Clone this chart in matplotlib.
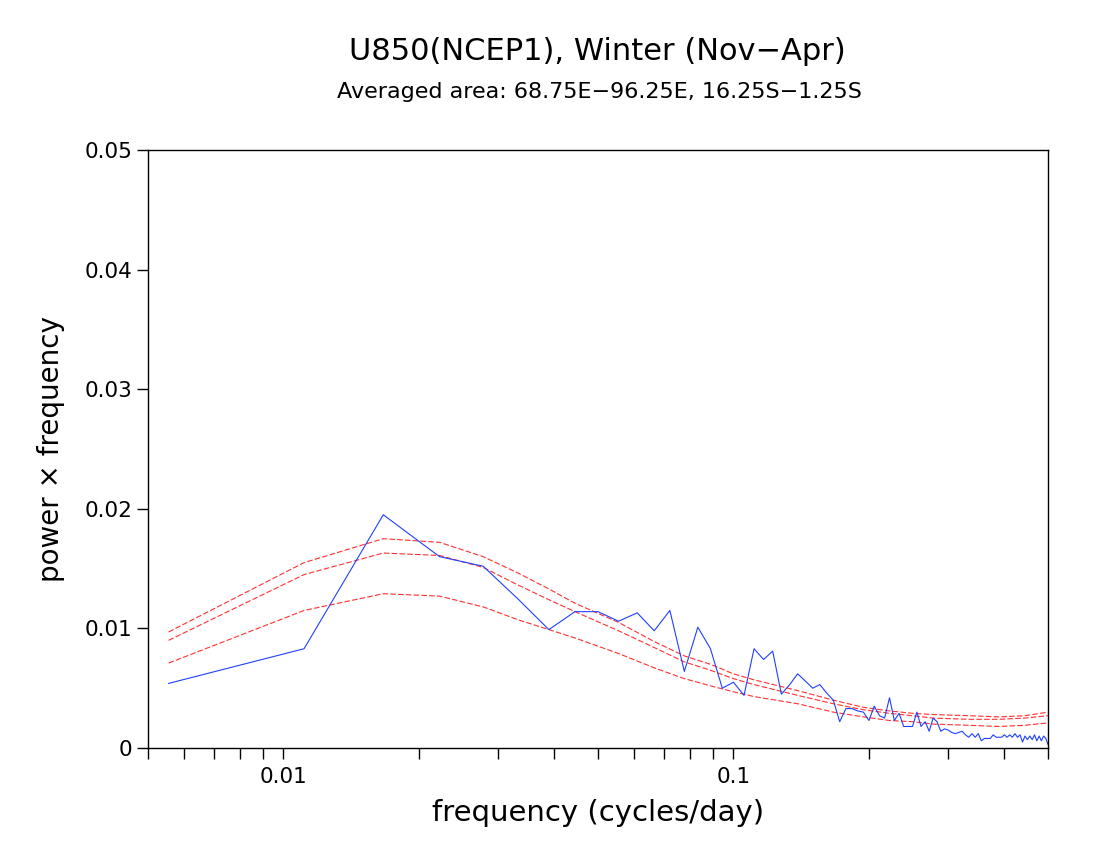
import numpy as np
import matplotlib
matplotlib.use('Agg')
import matplotlib.pyplot as plt
from matplotlib.ticker import FixedLocator, NullFormatter

# winter season length in days (frequencies are k / 180)
nDays = 180
harmonics = np.arange(1, 91)

# power x frequency of the averaged U850, one value per harmonic
spectrum = [
    0.0054, 0.0083, 0.0195, 0.0160, 0.0152, 0.0124, 0.0099, 0.0114, 0.0114, 0.0106,
    0.0113, 0.0098, 0.0115, 0.0064, 0.0101, 0.0083, 0.0050, 0.0055, 0.0044, 0.0083,
    0.0074, 0.0081, 0.0045, 0.0053, 0.0062, 0.0056, 0.0050, 0.0053, 0.0046, 0.0040,
    0.0022, 0.0033, 0.0033, 0.0031, 0.0030, 0.0023, 0.0035, 0.0027, 0.0025, 0.0042,
    0.0023, 0.0029, 0.0018, 0.0018, 0.0018, 0.0030, 0.0018, 0.0022, 0.0014, 0.0025,
    0.0022, 0.0014, 0.0016, 0.0015, 0.0013, 0.0012, 0.0013, 0.0014, 0.0011, 0.0009,
    0.0012, 0.0009, 0.0012, 0.0006, 0.0008, 0.0008, 0.0008, 0.0011, 0.0009, 0.0009,
    0.0009, 0.0011, 0.0009, 0.0011, 0.0009, 0.0012, 0.0009, 0.0011, 0.0005, 0.0010,
    0.0007, 0.0010, 0.0007, 0.0011, 0.0006, 0.0010, 0.0006, 0.0010, 0.0008, 0.0003,
]

# red noise reference curves, read at a subset of harmonics
refHarmonics = [1, 2, 3, 4, 5, 6, 7, 8, 10, 12, 14, 16, 18, 20, 25, 30, 35, 40, 45, 50, 60, 70, 80, 90]
upperBound = [0.0097, 0.0155, 0.0175, 0.0172, 0.0160, 0.0146, 0.0133, 0.0121, 0.0105, 0.0089,
              0.0077, 0.0070, 0.0062, 0.0057, 0.0048, 0.0040, 0.0034, 0.0031, 0.0029, 0.0028,
              0.0027, 0.0026, 0.0027, 0.0030]
middleBound = [0.0090, 0.0145, 0.0163, 0.0161, 0.0151, 0.0136, 0.0124, 0.0114, 0.0098, 0.0084,
               0.0072, 0.0065, 0.0058, 0.0053, 0.0044, 0.0037, 0.0032, 0.0029, 0.0027, 0.0025,
               0.0024, 0.0024, 0.0025, 0.0027]
lowerBound = [0.0071, 0.0115, 0.0129, 0.0127, 0.0118, 0.0107, 0.0099, 0.0092, 0.0079, 0.0067,
              0.0058, 0.0052, 0.0047, 0.0043, 0.0037, 0.0030, 0.0026, 0.0023, 0.0022, 0.0020,
              0.0019, 0.0018, 0.0019, 0.0021]

yTicks = [0, 0.01, 0.02, 0.03, 0.04, 0.05]
yTickLabels = ['0', '0.01', '0.02', '0.03', '0.04', '0.05']
xMajor = [0.01, 0.1]
xMajorLabels = ['0.01', '0.1']

freq = harmonics / nDays
refFreq = np.array(refHarmonics) / nDays

fig = plt.figure(figsize=(11, 8.5), dpi=100)
ax = fig.add_axes([148/1100, 102/850, 900/1100, 598/850])

redColor = '#ff3030'
for curve in (upperBound, middleBound, lowerBound):
    ax.plot(refFreq, curve, color=redColor, lw=0.8, ls=(0, (5, 2)))
ax.plot(freq, spectrum, color='#2040ff', lw=0.8)

ax.set_xscale('log')
ax.set_xlim(0.005, 0.5)
ax.set_ylim(0, 0.05)

ax.xaxis.set_major_locator(FixedLocator(xMajor))
ax.set_xticklabels(xMajorLabels)
minors = [m * 10.0**e for e in (-3, -2, -1) for m in range(2, 10)]
ax.xaxis.set_minor_locator(FixedLocator([v for v in minors if 0.005 <= v <= 0.5]))
ax.xaxis.set_minor_formatter(NullFormatter())
ax.set_yticks(yTicks)
ax.set_yticklabels(yTickLabels)

ax.tick_params(axis='both', which='both', direction='out', length=8, width=1,
               labelsize=15.5, top=False, right=False)
ax.tick_params(axis='x', which='major', pad=6)
for sp in ax.spines.values():
    sp.set_linewidth(1)

ax.set_xlabel('frequency (cycles/day)', fontsize=21, labelpad=8)
ax.set_ylabel('power \u00d7 frequency', fontsize=20, labelpad=14)

fig.text(597/1100, 1 - 52/850, 'U850(NCEP1), Winter (Nov\u2212Apr)', fontsize=22,
         ha='center', va='center')
fig.text(599/1100, 1 - 92/850, 'Averaged area: 68.75E\u221296.25E, 16.25S\u22121.25S', fontsize=16,
         ha='center', va='center')

fig.savefig('out.png', dpi=100)
